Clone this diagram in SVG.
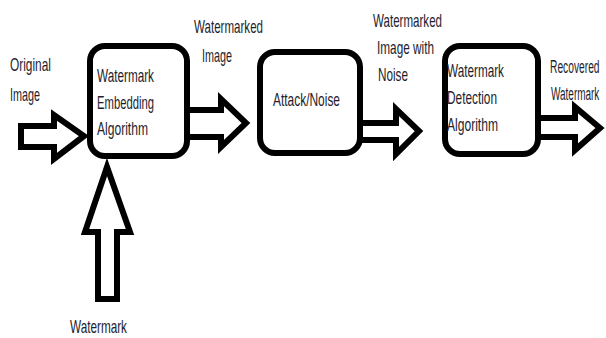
<svg xmlns="http://www.w3.org/2000/svg" width="606" height="338" viewBox="0 0 606 338">
<style>
.box{fill:#fff;stroke:#000;stroke-width:6}
.arr{fill:#fff;stroke:#000;stroke-width:6;stroke-linejoin:miter;stroke-miterlimit:10}
text{font-family:"Liberation Sans",Arial,sans-serif;font-size:19px;fill:#1e1e2e}
</style>
<rect width="606" height="338" fill="#fff"/>
<g id="connectors">
<polygon class="arr" points="21,126 54,126 54,115 84,136 54,159 54,147 21,147"/>
<polygon class="arr" points="187,110 221,110 221,99 246,123 221,147 221,137 187,137"/>
<polygon class="arr" points="360,123 396,123 396,109 419,131 396,154 396,140 360,140"/>
<polygon class="arr" points="538,118 575,118 575,107 600,128 575,150 575,137 538,137"/>
<polygon class="arr" points="98,299 98,232 85,232 107,167 130,232 117,232 117,299"/>
</g>
<g id="embed">
<rect class="box" x="90" y="46" width="97" height="110" rx="15"/>
<text x="97" y="82" textLength="57" lengthAdjust="spacingAndGlyphs">Watermark</text>
<text x="97" y="109" textLength="57" lengthAdjust="spacingAndGlyphs">Embedding</text>
<text x="97" y="135" textLength="51" lengthAdjust="spacingAndGlyphs">Algorithm</text>
</g>
<g id="attack">
<rect class="box" x="260" y="52" width="100" height="101" rx="15"/>
<text x="273" y="106" textLength="67" lengthAdjust="spacingAndGlyphs">Attack/Noise</text>
</g>
<g id="detect">
<rect class="box" x="445" y="46" width="93" height="108" rx="15"/>
<text x="447" y="77" textLength="57" lengthAdjust="spacingAndGlyphs">Watermark</text>
<text x="447" y="104" textLength="50" lengthAdjust="spacingAndGlyphs">Detection</text>
<text x="447" y="131" textLength="51" lengthAdjust="spacingAndGlyphs">Algorithm</text>
</g>
<g id="labels">
<text x="10" y="71" textLength="41" lengthAdjust="spacingAndGlyphs">Original</text>
<text x="10" y="101" textLength="30" lengthAdjust="spacingAndGlyphs">Image</text>
<text x="194" y="33" textLength="69" lengthAdjust="spacingAndGlyphs">Watermarked</text>
<text x="202" y="62" textLength="30" lengthAdjust="spacingAndGlyphs">Image</text>
<text x="373" y="27" textLength="69" lengthAdjust="spacingAndGlyphs">Watermarked</text>
<text x="377" y="54" textLength="57" lengthAdjust="spacingAndGlyphs">Image with</text>
<text x="378" y="81" textLength="30" lengthAdjust="spacingAndGlyphs">Noise</text>
<text transform="translate(550,73) scale(0.54,1)">Recovered</text>
<text transform="translate(551,100) scale(0.525,1)">Watermark</text>
<text x="70" y="333" textLength="57" lengthAdjust="spacingAndGlyphs">Watermark</text>
</g>
</svg>
